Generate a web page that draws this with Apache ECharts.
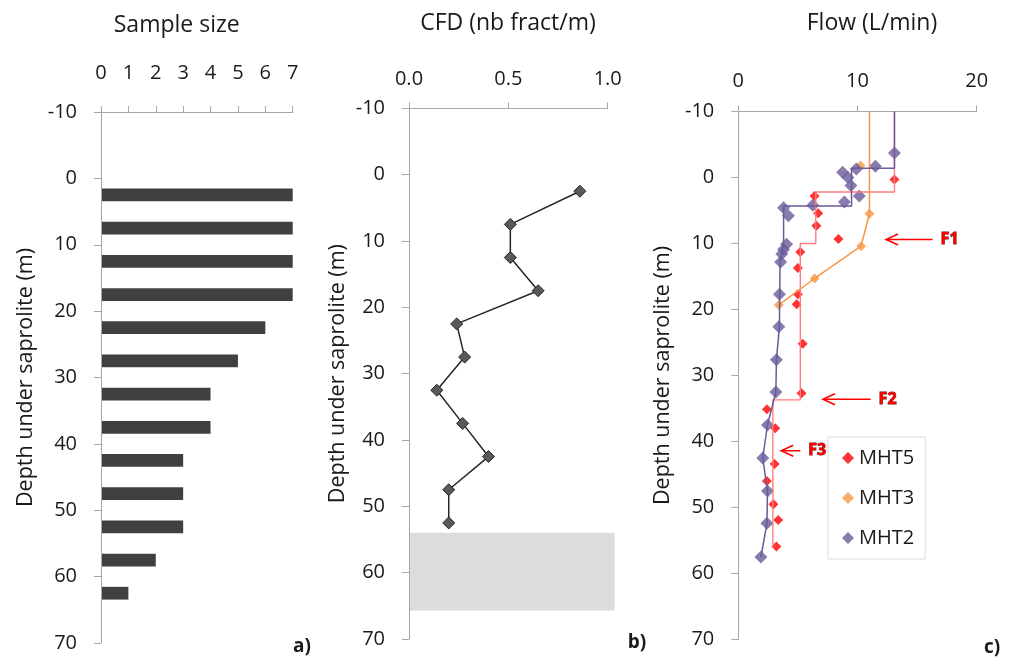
<!DOCTYPE html>
<html>
<head>
<meta charset="utf-8">
<script src="https://cdn.jsdelivr.net/npm/echarts@6/dist/echarts.min.js"></script>
<style>
    html, body { margin: 0; padding: 0; background: #fff; }
    #chart { width: 1013px; height: 662px; }
</style>
</head>
<body>
<div id="chart"></div>
<script>
// a) sample size per 5 m depth interval
const sampleDepth = [2.5, 7.5, 12.5, 17.5, 22.5, 27.5, 32.5, 37.5, 42.5, 47.5, 52.5, 57.5, 62.5];
const sampleSize = [7, 7, 7, 7, 6, 5, 4, 4, 3, 3, 3, 2, 1];

// b) fracture density
const cfdDepth = [2.5, 7.5, 12.5, 17.5, 22.5, 27.5, 32.5, 37.5, 42.5, 47.5, 52.5];
const cfdValue = [0.86, 0.51, 0.51, 0.65, 0.24, 0.28, 0.14, 0.27, 0.40, 0.20, 0.20];
const noDataDepth = [54, 65.7];
const noDataCfd = [0, 1.035];

// c) flow logs, measured points
const mht5Flow = [13.1, 6.4, 6.7, 6.55, 8.4, 5.2, 5.0, 5.0, 4.9, 5.4, 5.3, 2.4, 3.1, 3.05, 2.4, 2.95, 3.35, 3.2];
const mht5Depth = [0.3, 2.8, 5.4, 7.3, 9.3, 11.3, 13.7, 17.7, 19.2, 25.2, 32.7, 35.1, 38.0, 43.4, 46.0, 49.5, 51.9, 55.9];
const mht3Flow = [10.25, 11.0, 10.3, 6.4, 3.4];
const mht3Depth = [-1.8, 5.5, 10.4, 15.3, 19.3];
const mht2Flow = [13.1, 11.5, 9.9, 8.75, 9.2, 9.45, 10.15, 8.9, 6.25, 3.8, 4.2, 4.05, 3.8, 3.65, 3.55, 3.45, 3.4, 3.2, 3.15, 2.45, 2.05, 2.45, 2.4, 1.9];
const mht2Depth = [-3.7, -1.7, -1.3, -0.8, 0.0, 1.2, 2.8, 3.7, 4.2, 4.6, 5.8, 10.1, 10.9, 11.6, 12.8, 17.7, 22.6, 27.6, 32.5, 37.5, 42.5, 47.5, 52.4, 57.5];

// c) interpreted profiles
const mht5LineFlow = [13.1, 13.1, 6.5, 6.5, 5.2, 5.2, 2.9, 2.9];
const mht5LineDepth = [-10, 2.2, 2.2, 10, 10, 33.7, 33.7, 56];
const mht3LineFlow = [11.0, 11.0, 10.3, 6.4, 3.4];
const mht3LineDepth = [-10, 5.5, 10.4, 15.3, 19.3];
const mht2LineFlow = [13.1, 13.1, 9.5, 9.5, 3.8, 3.8, 3.5, 3.45, 3.2, 3.15, 2.45, 2.05, 2.45, 2.4, 1.9];
const mht2LineDepth = [-10, -1.4, -1.4, 4.3, 4.3, 10.1, 12.8, 22.6, 27.6, 32.5, 37.5, 42.5, 47.5, 52.4, 57.5];

// c) flowing fractures
const fracNames = ['F1', 'F2', 'F3'];
const fracDepth = [9.4, 33.6, 41.4];
const fracTip = [12.4, 7.1, 3.6];
const fracTail = [16.3, 11.1, 5.2];

const FONT = 'Open Sans';
const TXT = '#1a1a1a';
const AXIS = '#a6a6a6';

const zip = (a, b) => a.map((v, i) => [v, b[i]]);

function depthAxis(gridIndex) {
    return {
        type: 'value', gridIndex: gridIndex,
        min: -10, max: 70, interval: 10, inverse: true,
        name: 'Depth under saprolite (m)', nameLocation: 'middle', nameGap: 64,
        nameTextStyle: { fontFamily: FONT, fontSize: 21.5, color: TXT },
        axisLine: { show: true, onZero: false, lineStyle: { color: AXIS } },
        axisTick: { show: true, length: 7, lineStyle: { color: AXIS } },
        axisLabel: { fontFamily: FONT, fontSize: 20, color: TXT, margin: 24 },
        splitLine: { show: false }
    };
}

function topAxis(gridIndex, max, interval, margin, fmt) {
    return {
        type: 'value', gridIndex: gridIndex, position: 'top',
        min: 0, max: max, interval: interval,
        axisLine: { show: true, onZero: false, lineStyle: { color: AXIS } },
        axisTick: { show: true, length: 6, lineStyle: { color: AXIS } },
        axisLabel: { fontFamily: FONT, fontSize: 20, color: TXT, margin: margin, formatter: fmt },
        splitLine: { show: false }
    };
}

const chart = echarts.init(document.getElementById('chart'));

const option = {
    backgroundColor: '#fff',
    animation: false,
    grid: [
        { left: 101, top: 112, width: 191.7, height: 531 },
        { left: 409, top: 108.3, width: 198.7, height: 530.7 },
        { left: 738.3, top: 111.5, width: 238.4, height: 528 }
    ],
    xAxis: [
        topAxis(0, 7, 1, 29),
        topAxis(1, 1, 0.5, 19, v => v.toFixed(1)),
        topAxis(2, 20, 10, 20)
    ],
    yAxis: [depthAxis(0), Object.assign(depthAxis(1), { nameGap: 60 }), depthAxis(2)],
    legend: {
        data: ['MHT5', 'MHT3', 'MHT2'],
        orient: 'vertical',
        left: 828, top: 437,
        icon: 'diamond',
        itemWidth: 12, itemHeight: 12, itemGap: 20,
        padding: [11, 11, 11, 14],
        backgroundColor: '#fff',
        borderColor: '#d9d9d9', borderWidth: 1,
        textStyle: { fontFamily: FONT, fontSize: 20, color: TXT }
    },
    graphic: [
        { type: 'text', x: 176.7, y: 25, style: { text: 'Sample size', font: '23px ' + FONT, fill: TXT, align: 'center', verticalAlign: 'middle' } },
        { type: 'text', x: 508, y: 23, style: { text: 'CFD (nb fract/m)', font: '23px ' + FONT, fill: TXT, align: 'center', verticalAlign: 'middle' } },
        { type: 'text', x: 872, y: 23, style: { text: 'Flow (L/min)', font: '23px ' + FONT, fill: TXT, align: 'center', verticalAlign: 'middle' } },
        { type: 'text', x: 302, y: 647, style: { text: 'a)', font: 'bold 19px ' + FONT, fill: TXT, align: 'center', verticalAlign: 'middle' } },
        { type: 'text', x: 637, y: 643, style: { text: 'b)', font: 'bold 19px ' + FONT, fill: TXT, align: 'center', verticalAlign: 'middle' } },
        { type: 'text', x: 992, y: 648, style: { text: 'c)', font: 'bold 19px ' + FONT, fill: TXT, align: 'center', verticalAlign: 'middle' } }
    ],
    series: [
        // a) horizontal bars
        {
            type: 'custom', xAxisIndex: 0, yAxisIndex: 0,
            data: zip(sampleSize, sampleDepth),
            renderItem: function (params, api) {
                const d = api.value(1);
                const p0 = api.coord([0, d - 0.96]);
                const p1 = api.coord([api.value(0), d + 0.96]);
                return {
                    type: 'rect',
                    shape: { x: p0[0] + 1, y: Math.min(p0[1], p1[1]), width: p1[0] - p0[0] - 1, height: Math.abs(p1[1] - p0[1]) },
                    style: { fill: '#404040' }
                };
            }
        },
        // b) no-data band below the last interval
        {
            type: 'custom', xAxisIndex: 1, yAxisIndex: 1, clip: false, silent: true, z: 1,
            data: [[noDataCfd[0], noDataCfd[1], noDataDepth[0], noDataDepth[1]]],
            renderItem: function (params, api) {
                const p0 = api.coord([api.value(0), api.value(2)]);
                const p1 = api.coord([api.value(1), api.value(3)]);
                return {
                    type: 'rect',
                    shape: { x: p0[0] + 1, y: p0[1], width: p1[0] - p0[0] - 1, height: p1[1] - p0[1] },
                    style: { fill: '#dcdcdc' }
                };
            }
        },
        // b) CFD profile
        {
            type: 'line', xAxisIndex: 1, yAxisIndex: 1,
            data: zip(cfdValue, cfdDepth),
            symbol: 'diamond', symbolSize: 12,
            lineStyle: { color: '#262626', width: 1.5 },
            itemStyle: { color: '#595959', borderColor: '#262626', borderWidth: 1 },
            z: 3
        },
        // c) profiles
        {
            name: 'MHT5 profile', type: 'line', xAxisIndex: 2, yAxisIndex: 2,
            data: zip(mht5LineFlow, mht5LineDepth), symbol: 'none',
            lineStyle: { color: '#ff7c80', width: 1.4 }
        },
        {
            name: 'MHT5', type: 'scatter', xAxisIndex: 2, yAxisIndex: 2,
            data: zip(mht5Flow, mht5Depth), symbol: 'diamond', symbolSize: 10,
            itemStyle: { color: '#ff0000' }
        },
        {
            name: 'MHT3 profile', type: 'line', xAxisIndex: 2, yAxisIndex: 2,
            data: zip(mht3LineFlow, mht3LineDepth), symbol: 'none',
            lineStyle: { color: '#f79646', width: 1.5 }
        },
        {
            name: 'MHT3', type: 'scatter', xAxisIndex: 2, yAxisIndex: 2,
            data: zip(mht3Flow, mht3Depth), symbol: 'diamond', symbolSize: 10,
            itemStyle: { color: '#f79646' }
        },
        {
            name: 'MHT2 profile', type: 'line', xAxisIndex: 2, yAxisIndex: 2,
            data: zip(mht2LineFlow, mht2LineDepth), symbol: 'none',
            lineStyle: { color: '#6a5a9a', width: 1.5 }
        },
        {
            name: 'MHT2', type: 'scatter', xAxisIndex: 2, yAxisIndex: 2,
            data: zip(mht2Flow, mht2Depth), symbol: 'diamond', symbolSize: 13,
            itemStyle: { color: '#6a5a9a' }
        },
        // c) fracture arrows
        {
            type: 'custom', xAxisIndex: 2, yAxisIndex: 2, clip: false, z: 5,
            data: fracNames.map((n, i) => [fracTip[i], fracTail[i], fracDepth[i]]),
            renderItem: function (params, api) {
                const tip = api.coord([api.value(0), api.value(2)]);
                const tail = api.coord([api.value(1), api.value(2)]);
                return {
                    type: 'group',
                    children: [
                        { type: 'line', shape: { x1: tip[0], y1: tip[1], x2: tail[0], y2: tail[1] }, style: { stroke: '#ff0000', lineWidth: 1.5 } },
                        { type: 'polyline', shape: { points: [[tip[0] + 12, tip[1] - 5.5], [tip[0], tip[1]], [tip[0] + 12, tip[1] + 5.5]] }, style: { stroke: '#ff0000', lineWidth: 1.5, fill: null } },
                        { type: 'text', x: tail[0] + 8, y: tail[1], style: { text: fracNames[params.dataIndex], font: 'bold 16px ' + FONT, fill: '#ff0000', stroke: '#7a0000', lineWidth: 0.8, align: 'left', verticalAlign: 'middle' } }
                    ]
                };
            }
        }
    ]
};

chart.setOption(option);
window.addEventListener('resize', () => chart.resize());
</script>
</body>
</html>
